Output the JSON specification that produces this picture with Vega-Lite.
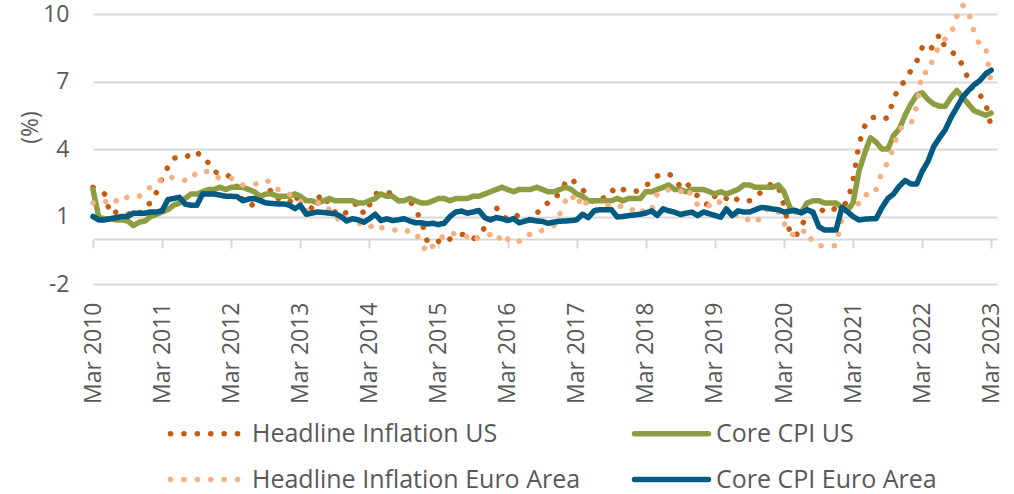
{
"$schema": "https://vega.github.io/schema/vega-lite/v6.json",
"width": 904, "height": 270,
"autosize": {"type": "none"},
"padding": {"left": 93, "top": 14, "right": 17, "bottom": 210},
"background": "white",
"config": {"view": {"stroke": null}, "font": "Open Sans"},
"data": {"values": [
{"d":"2010-03","hu":2.3,"he":1.6,"cu":2.2,"ce":1.0},
{"d":"2010-04","hu":2.2,"he":1.6,"cu":0.95,"ce":0.85},
{"d":"2010-05","hu":2.0,"he":1.7,"cu":0.9,"ce":0.85},
{"d":"2010-06","hu":1.1,"he":1.5,"cu":0.9,"ce":0.9},
{"d":"2010-07","hu":1.2,"he":1.7,"cu":0.85,"ce":0.95},
{"d":"2010-08","hu":1.1,"he":1.6,"cu":0.85,"ce":1.0},
{"d":"2010-09","hu":1.1,"he":1.9,"cu":0.8,"ce":1.0},
{"d":"2010-10","hu":1.2,"he":1.9,"cu":0.6,"ce":1.15},
{"d":"2010-11","hu":1.1,"he":1.9,"cu":0.75,"ce":1.15},
{"d":"2010-12","hu":1.5,"he":2.2,"cu":0.8,"ce":1.15},
{"d":"2011-01","hu":1.6,"he":2.3,"cu":1.0,"ce":1.2},
{"d":"2011-02","hu":2.1,"he":2.4,"cu":1.1,"ce":1.2},
{"d":"2011-03","hu":2.7,"he":2.7,"cu":1.2,"ce":1.25},
{"d":"2011-04","hu":3.2,"he":2.8,"cu":1.3,"ce":1.75},
{"d":"2011-05","hu":3.6,"he":2.7,"cu":1.5,"ce":1.8},
{"d":"2011-06","hu":3.6,"he":2.7,"cu":1.6,"ce":1.85},
{"d":"2011-07","hu":3.6,"he":2.6,"cu":1.8,"ce":1.55},
{"d":"2011-08","hu":3.8,"he":2.6,"cu":2.0,"ce":1.5},
{"d":"2011-09","hu":3.9,"he":3.0,"cu":2.0,"ce":1.5},
{"d":"2011-10","hu":3.5,"he":3.0,"cu":2.1,"ce":2.0},
{"d":"2011-11","hu":3.4,"he":3.0,"cu":2.2,"ce":2.0},
{"d":"2011-12","hu":3.0,"he":2.8,"cu":2.2,"ce":2.0},
{"d":"2012-01","hu":2.9,"he":2.7,"cu":2.3,"ce":1.95},
{"d":"2012-02","hu":2.9,"he":2.7,"cu":2.2,"ce":1.9},
{"d":"2012-03","hu":2.7,"he":2.7,"cu":2.3,"ce":1.9},
{"d":"2012-04","hu":2.3,"he":2.6,"cu":2.3,"ce":1.88},
{"d":"2012-05","hu":1.7,"he":2.4,"cu":2.3,"ce":1.7},
{"d":"2012-06","hu":1.7,"he":2.4,"cu":2.2,"ce":1.78},
{"d":"2012-07","hu":1.4,"he":2.4,"cu":2.1,"ce":1.8},
{"d":"2012-08","hu":1.7,"he":2.6,"cu":1.9,"ce":1.7},
{"d":"2012-09","hu":2.0,"he":2.6,"cu":2.0,"ce":1.6},
{"d":"2012-10","hu":2.2,"he":2.5,"cu":2.0,"ce":1.58},
{"d":"2012-11","hu":1.8,"he":2.2,"cu":1.9,"ce":1.56},
{"d":"2012-12","hu":1.7,"he":2.2,"cu":1.9,"ce":1.56},
{"d":"2013-01","hu":1.6,"he":2.0,"cu":1.9,"ce":1.5},
{"d":"2013-02","hu":2.0,"he":1.8,"cu":2.0,"ce":1.35},
{"d":"2013-03","hu":1.5,"he":1.7,"cu":1.9,"ce":1.5},
{"d":"2013-04","hu":1.1,"he":1.2,"cu":1.7,"ce":1.1},
{"d":"2013-05","hu":1.4,"he":1.4,"cu":1.7,"ce":1.15},
{"d":"2013-06","hu":1.8,"he":1.6,"cu":1.6,"ce":1.2},
{"d":"2013-07","hu":2.0,"he":1.6,"cu":1.7,"ce":1.18},
{"d":"2013-08","hu":1.5,"he":1.3,"cu":1.8,"ce":1.15},
{"d":"2013-09","hu":1.2,"he":1.1,"cu":1.7,"ce":1.12},
{"d":"2013-10","hu":1.0,"he":0.7,"cu":1.7,"ce":1.0},
{"d":"2013-11","hu":1.2,"he":0.9,"cu":1.7,"ce":0.8},
{"d":"2013-12","hu":1.5,"he":0.8,"cu":1.7,"ce":0.9},
{"d":"2014-01","hu":1.6,"he":0.7,"cu":1.6,"ce":0.85},
{"d":"2014-02","hu":1.1,"he":0.7,"cu":1.6,"ce":0.75},
{"d":"2014-03","hu":1.5,"he":0.5,"cu":1.7,"ce":0.9},
{"d":"2014-04","hu":2.0,"he":0.7,"cu":1.8,"ce":1.1},
{"d":"2014-05","hu":2.1,"he":0.5,"cu":2.0,"ce":0.82},
{"d":"2014-06","hu":2.1,"he":0.5,"cu":1.9,"ce":0.9},
{"d":"2014-07","hu":2.0,"he":0.4,"cu":1.9,"ce":0.82},
{"d":"2014-08","hu":1.7,"he":0.4,"cu":1.7,"ce":0.85},
{"d":"2014-09","hu":1.7,"he":0.3,"cu":1.7,"ce":0.9},
{"d":"2014-10","hu":1.7,"he":0.4,"cu":1.8,"ce":0.8},
{"d":"2014-11","hu":1.3,"he":0.3,"cu":1.7,"ce":0.72},
{"d":"2014-12","hu":0.8,"he":-0.2,"cu":1.6,"ce":0.72},
{"d":"2015-01","hu":-0.1,"he":-0.6,"cu":1.6,"ce":0.67},
{"d":"2015-02","hu":0.0,"he":-0.3,"cu":1.7,"ce":0.7},
{"d":"2015-03","hu":-0.1,"he":-0.1,"cu":1.8,"ce":0.64},
{"d":"2015-04","hu":-0.2,"he":0.2,"cu":1.8,"ce":0.7},
{"d":"2015-05","hu":0.0,"he":0.3,"cu":1.7,"ce":1.0},
{"d":"2015-06","hu":0.1,"he":0.2,"cu":1.8,"ce":1.2},
{"d":"2015-07","hu":0.2,"he":0.2,"cu":1.8,"ce":1.24},
{"d":"2015-08","hu":0.2,"he":0.1,"cu":1.8,"ce":1.15},
{"d":"2015-09","hu":0.0,"he":-0.1,"cu":1.9,"ce":1.2},
{"d":"2015-10","hu":0.2,"he":0.1,"cu":1.9,"ce":1.27},
{"d":"2015-11","hu":0.5,"he":0.1,"cu":2.0,"ce":0.95},
{"d":"2015-12","hu":0.7,"he":0.2,"cu":2.1,"ce":0.85},
{"d":"2016-01","hu":1.4,"he":0.3,"cu":2.2,"ce":0.95},
{"d":"2016-02","hu":1.0,"he":-0.2,"cu":2.3,"ce":0.9},
{"d":"2016-03","hu":0.9,"he":0.0,"cu":2.2,"ce":0.82},
{"d":"2016-04","hu":1.1,"he":-0.2,"cu":2.1,"ce":0.9},
{"d":"2016-05","hu":1.0,"he":-0.1,"cu":2.2,"ce":0.72},
{"d":"2016-06","hu":1.0,"he":0.2,"cu":2.2,"ce":0.8},
{"d":"2016-07","hu":0.8,"he":0.2,"cu":2.2,"ce":0.85},
{"d":"2016-08","hu":1.1,"he":0.2,"cu":2.3,"ce":0.8},
{"d":"2016-09","hu":1.5,"he":0.4,"cu":2.2,"ce":0.78},
{"d":"2016-10","hu":1.6,"he":0.5,"cu":2.1,"ce":0.7},
{"d":"2016-11","hu":1.7,"he":0.6,"cu":2.1,"ce":0.75},
{"d":"2016-12","hu":2.1,"he":1.1,"cu":2.2,"ce":0.79},
{"d":"2017-01","hu":2.5,"he":1.7,"cu":2.3,"ce":0.8},
{"d":"2017-02","hu":2.7,"he":2.0,"cu":2.2,"ce":0.82},
{"d":"2017-03","hu":2.4,"he":1.5,"cu":2.0,"ce":0.85},
{"d":"2017-04","hu":2.2,"he":1.9,"cu":1.9,"ce":1.1},
{"d":"2017-05","hu":1.9,"he":1.4,"cu":1.7,"ce":0.95},
{"d":"2017-06","hu":1.6,"he":1.3,"cu":1.7,"ce":1.25},
{"d":"2017-07","hu":1.7,"he":1.3,"cu":1.7,"ce":1.3},
{"d":"2017-08","hu":1.9,"he":1.5,"cu":1.7,"ce":1.3},
{"d":"2017-09","hu":2.2,"he":1.5,"cu":1.7,"ce":1.3},
{"d":"2017-10","hu":2.0,"he":1.4,"cu":1.8,"ce":0.98},
{"d":"2017-11","hu":2.2,"he":1.5,"cu":1.7,"ce":1.0},
{"d":"2017-12","hu":2.1,"he":1.3,"cu":1.8,"ce":1.04},
{"d":"2018-01","hu":2.1,"he":1.3,"cu":1.8,"ce":1.07},
{"d":"2018-02","hu":2.2,"he":1.1,"cu":1.8,"ce":1.1},
{"d":"2018-03","hu":2.4,"he":1.4,"cu":2.1,"ce":1.15},
{"d":"2018-04","hu":2.5,"he":1.3,"cu":2.1,"ce":1.25},
{"d":"2018-05","hu":2.8,"he":2.0,"cu":2.2,"ce":1.05},
{"d":"2018-06","hu":2.9,"he":2.0,"cu":2.3,"ce":1.34},
{"d":"2018-07","hu":2.9,"he":2.2,"cu":2.4,"ce":1.25},
{"d":"2018-08","hu":2.7,"he":2.1,"cu":2.2,"ce":1.19},
{"d":"2018-09","hu":2.3,"he":2.1,"cu":2.2,"ce":1.09},
{"d":"2018-10","hu":2.5,"he":2.3,"cu":2.1,"ce":1.15},
{"d":"2018-11","hu":2.2,"he":1.9,"cu":2.2,"ce":1.19},
{"d":"2018-12","hu":1.9,"he":1.5,"cu":2.2,"ce":1.04},
{"d":"2019-01","hu":1.6,"he":1.4,"cu":2.2,"ce":1.2},
{"d":"2019-02","hu":1.5,"he":1.5,"cu":2.1,"ce":1.12},
{"d":"2019-03","hu":1.9,"he":1.4,"cu":2.0,"ce":1.05},
{"d":"2019-04","hu":2.0,"he":1.7,"cu":2.1,"ce":0.97},
{"d":"2019-05","hu":1.8,"he":1.2,"cu":2.0,"ce":1.34},
{"d":"2019-06","hu":1.6,"he":1.3,"cu":2.1,"ce":1.04},
{"d":"2019-07","hu":1.8,"he":1.0,"cu":2.2,"ce":1.25},
{"d":"2019-08","hu":1.7,"he":1.0,"cu":2.4,"ce":1.2},
{"d":"2019-09","hu":1.7,"he":0.8,"cu":2.4,"ce":1.2},
{"d":"2019-10","hu":1.8,"he":0.7,"cu":2.3,"ce":1.3},
{"d":"2019-11","hu":2.1,"he":1.0,"cu":2.3,"ce":1.4},
{"d":"2019-12","hu":2.3,"he":1.3,"cu":2.3,"ce":1.38},
{"d":"2020-01","hu":2.5,"he":1.4,"cu":2.3,"ce":1.33},
{"d":"2020-02","hu":2.3,"he":1.2,"cu":2.4,"ce":1.3},
{"d":"2020-03","hu":1.5,"he":0.7,"cu":2.1,"ce":1.2},
{"d":"2020-04","hu":0.3,"he":0.3,"cu":1.4,"ce":1.24},
{"d":"2020-05","hu":0.1,"he":0.1,"cu":1.2,"ce":1.27},
{"d":"2020-06","hu":0.6,"he":0.3,"cu":1.2,"ce":1.16},
{"d":"2020-07","hu":1.0,"he":0.4,"cu":1.6,"ce":1.3},
{"d":"2020-08","hu":1.3,"he":-0.2,"cu":1.7,"ce":1.2},
{"d":"2020-09","hu":1.4,"he":-0.3,"cu":1.7,"ce":0.55},
{"d":"2020-10","hu":1.2,"he":-0.3,"cu":1.6,"ce":0.4},
{"d":"2020-11","hu":1.2,"he":-0.3,"cu":1.6,"ce":0.4},
{"d":"2020-12","hu":1.4,"he":-0.3,"cu":1.6,"ce":0.4},
{"d":"2021-01","hu":1.4,"he":0.9,"cu":1.4,"ce":1.4},
{"d":"2021-02","hu":1.7,"he":0.9,"cu":1.3,"ce":1.2},
{"d":"2021-03","hu":2.6,"he":1.3,"cu":1.6,"ce":1.0},
{"d":"2021-04","hu":4.2,"he":1.6,"cu":3.0,"ce":0.85},
{"d":"2021-05","hu":5.0,"he":2.0,"cu":3.8,"ce":0.88},
{"d":"2021-06","hu":5.4,"he":1.9,"cu":4.5,"ce":0.9},
{"d":"2021-07","hu":5.4,"he":2.2,"cu":4.3,"ce":0.9},
{"d":"2021-08","hu":5.3,"he":3.0,"cu":4.0,"ce":1.4},
{"d":"2021-09","hu":5.4,"he":3.4,"cu":4.0,"ce":1.8},
{"d":"2021-10","hu":6.2,"he":4.1,"cu":4.6,"ce":2.0},
{"d":"2021-11","hu":6.8,"he":4.9,"cu":4.9,"ce":2.35},
{"d":"2021-12","hu":7.0,"he":5.0,"cu":5.5,"ce":2.6},
{"d":"2022-01","hu":7.5,"he":5.1,"cu":6.0,"ce":2.45},
{"d":"2022-02","hu":7.9,"he":5.9,"cu":6.4,"ce":2.45},
{"d":"2022-03","hu":8.5,"he":7.4,"cu":6.5,"ce":3.0},
{"d":"2022-04","hu":8.3,"he":7.4,"cu":6.2,"ce":3.45},
{"d":"2022-05","hu":8.6,"he":8.1,"cu":6.0,"ce":4.1},
{"d":"2022-06","hu":9.1,"he":8.6,"cu":5.9,"ce":4.5},
{"d":"2022-07","hu":8.5,"he":8.9,"cu":5.9,"ce":4.85},
{"d":"2022-08","hu":8.3,"he":9.1,"cu":6.3,"ce":5.4},
{"d":"2022-09","hu":8.2,"he":9.9,"cu":6.6,"ce":5.85},
{"d":"2022-10","hu":7.7,"he":10.4,"cu":6.3,"ce":6.3},
{"d":"2022-11","hu":7.1,"he":10.1,"cu":6.0,"ce":6.6},
{"d":"2022-12","hu":6.5,"he":9.2,"cu":5.7,"ce":6.85},
{"d":"2023-01","hu":6.4,"he":8.6,"cu":5.6,"ce":7.05},
{"d":"2023-02","hu":6.0,"he":8.5,"cu":5.5,"ce":7.35},
{"d":"2023-03","hu":5.0,"he":6.9,"cu":5.6,"ce":7.5}
]},
"transform": [{"fold": ["hu", "cu", "he", "ce"], "as": ["k", "v"]}],
"encoding": {
  "x": {"field": "d", "type": "temporal",
    "scale": {"type": "utc", "domain": [{"year": 2010, "month": 3, "date": 1, "utc": true}, {"year": 2023, "month": 4, "date": 1, "utc": true}]},
    "axis": {
      "values": [
        {"year": 2010, "month": 3, "date": 1, "utc": true}, {"year": 2011, "month": 3, "date": 1, "utc": true},
        {"year": 2012, "month": 3, "date": 1, "utc": true}, {"year": 2013, "month": 3, "date": 1, "utc": true},
        {"year": 2014, "month": 3, "date": 1, "utc": true}, {"year": 2015, "month": 3, "date": 1, "utc": true},
        {"year": 2016, "month": 3, "date": 1, "utc": true}, {"year": 2017, "month": 3, "date": 1, "utc": true},
        {"year": 2018, "month": 3, "date": 1, "utc": true}, {"year": 2019, "month": 3, "date": 1, "utc": true},
        {"year": 2020, "month": 3, "date": 1, "utc": true}, {"year": 2021, "month": 3, "date": 1, "utc": true},
        {"year": 2022, "month": 3, "date": 1, "utc": true}, {"year": 2023, "month": 3, "date": 1, "utc": true}],
      "labelExpr": "utcFormat(datum.value, '%b %Y')", "title": null, "grid": false,
      "labelAngle": -90, "labelFont": "Open Sans", "labelFontSize": 23, "labelColor": "#595959",
      "labelPadding": 54, "offset": -45, "labelOverlap": false, "labelFlush": false, "labelLimit": 300,
      "domainColor": "#D9D9D9", "domainWidth": 2, "tickColor": "#D9D9D9", "tickWidth": 2, "tickSize": 9
    }},
  "y": {"field": "v", "type": "quantitative",
    "scale": {"domain": [-2, 10], "nice": false, "zero": false},
    "axis": {"values": [-2, 1, 4, 7, 10], "labelExpr": "'' + datum.value", "title": "(%)", "grid": true, "gridColor": "#D9D9D9", "gridWidth": 2,
      "domain": false, "ticks": false, "tickSize": 0, "labelPadding": 24,
      "labelFont": "Open Sans", "labelFontSize": 23, "labelColor": "#595959",
      "titleFont": "Open Sans", "titleFontSize": 23, "titleFontWeight": "normal", "titleColor": "#595959",
      "titleX": -63, "titleY": 113, "titleAngle": -90, "titleAlign": "center", "titleBaseline": "middle"}}
},
"layer": [
  {"transform": [{"filter": "datum.k === 'hu'"}],
   "mark": {"type": "line", "strokeWidth": 5.5, "strokeCap": "round", "strokeJoin": "round"},
   "encoding": {"color": {"datum": "Headline Inflation US"}, "strokeDash": {"datum": "Headline Inflation US"}}},
  {"transform": [{"filter": "datum.k === 'cu'"}],
   "mark": {"type": "line", "strokeWidth": 5.5, "strokeCap": "round", "strokeJoin": "round"},
   "encoding": {"color": {"datum": "Core CPI US"}, "strokeDash": {"datum": "Core CPI US"}}},
  {"transform": [{"filter": "datum.k === 'he'"}],
   "mark": {"type": "line", "strokeWidth": 5.5, "strokeCap": "round", "strokeJoin": "round"},
   "encoding": {"color": {"datum": "Headline Inflation Euro Area"}, "strokeDash": {"datum": "Headline Inflation Euro Area"}}},
  {"transform": [{"filter": "datum.k === 'ce'"}],
   "mark": {"type": "line", "strokeWidth": 5.5, "strokeCap": "round", "strokeJoin": "round"},
   "encoding": {
     "color": {"datum": "Core CPI Euro Area",
       "scale": {"domain": ["Headline Inflation US", "Headline Inflation Euro Area", "Core CPI US", "Core CPI Euro Area"],
                 "range": ["#C55A11", "#F4B183", "#8F9D42", "#005A82"]},
       "legend": {"title": null, "orient": "none", "legendX": 102, "legendY": 407, "columns": 2,
         "columnPadding": 42, "rowPadding": 20, "symbolType": "M-5,0H5", "symbolSize": 219, "symbolStrokeWidth": 5.5,
         "labelFont": "Open Sans", "labelFontSize": 25, "labelColor": "#595959", "labelOffset": 32, "labelLimit": 600,
         "encoding": {"symbols": {"strokeCap": {"value": "round"}, "update": {"strokeCap": {"value": "round"}}}}}},
     "strokeDash": {"datum": "Core CPI Euro Area",
       "scale": {"domain": ["Headline Inflation US", "Headline Inflation Euro Area", "Core CPI US", "Core CPI Euro Area"],
                 "range": [[0.1, 13.3], [0.1, 13.3], [1, 0], [1, 0]]},
       "legend": {"title": null, "orient": "none", "legendX": 102, "legendY": 407, "columns": 2,
         "columnPadding": 42, "rowPadding": 20, "symbolType": "M-5,0H5", "symbolSize": 219, "symbolStrokeWidth": 5.5,
         "labelFont": "Open Sans", "labelFontSize": 25, "labelColor": "#595959", "labelOffset": 32, "labelLimit": 600,
         "encoding": {"symbols": {"strokeCap": {"value": "round"}, "update": {"strokeCap": {"value": "round"}}}}}}
   }}
]
}
